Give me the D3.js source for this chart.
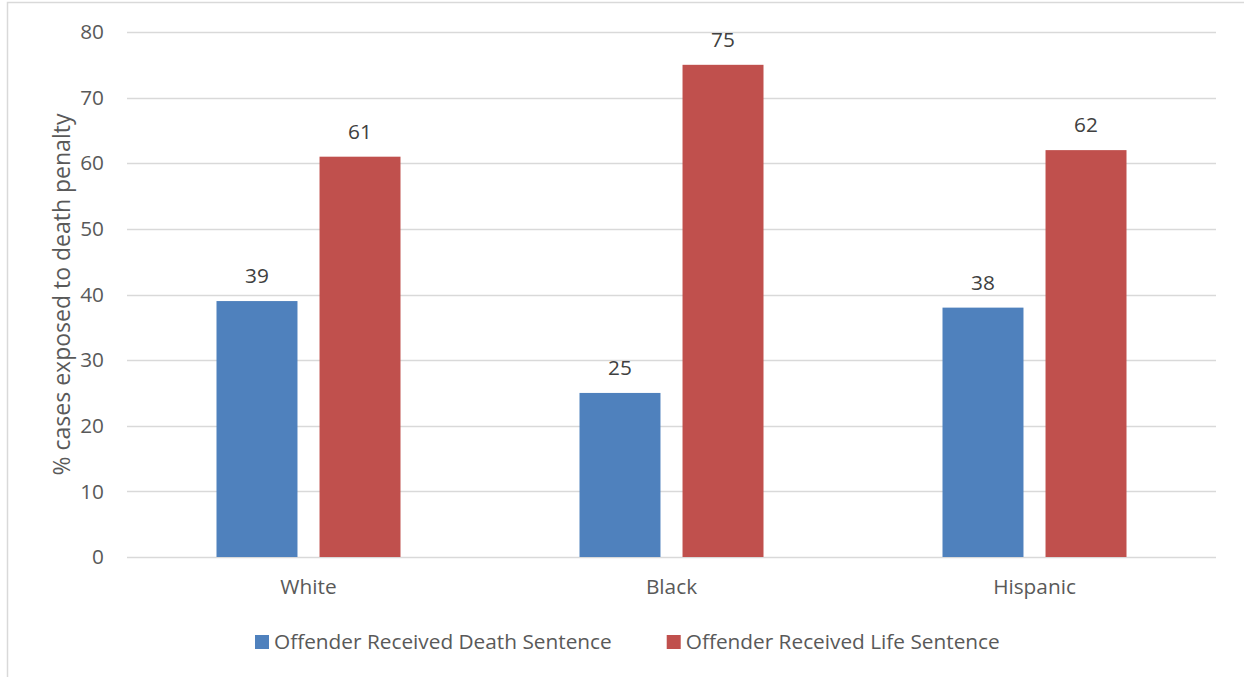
<!DOCTYPE html>
<html>
<head>
<meta charset="utf-8">
<script src="https://cdn.jsdelivr.net/npm/d3@7"></script>
<style>
  html, body { margin: 0; padding: 0; background: #fff; }
  svg { display: block; }
  text { font-family: "Open Sans", Lato, sans-serif; }
</style>
</head>
<body>
<svg id="chart" width="1244" height="677"></svg>
<script>
// Share of cases exposed to the death penalty, by offender race
const categories = ["White", "Black", "Hispanic"];
const seriesNames = ["Offender Received Death Sentence", "Offender Received Life Sentence"];
const deathSentence = [39, 25, 38];
const lifeSentence = [61, 75, 62];
const yTicks = [0, 10, 20, 30, 40, 50, 60, 70, 80];
const yTitle = "% cases exposed to death penalty";
const colors = ["#4F81BD", "#C0504D"];

const svg = d3.select("#chart");
const W = 1244, H = 677;
const plot = { left: 127, right: 1216, top: 32, bottom: 557 };
const FS = 20.8;     // tick, data and legend labels
const TITLE_FS = 23; // axis title

// chart frame
svg.append("path")
  .attr("d", `M7.5,${H} L7.5,2.5 L${W},2.5`)
  .attr("fill", "none").attr("stroke", "#D9D9D9").attr("stroke-width", 1.5);

const x = d3.scaleBand().domain(categories).range([plot.left, plot.right]);
const inner = d3.scaleBand().domain(seriesNames)
  .range([x.bandwidth() / 2 - 92, x.bandwidth() / 2 + 92]).paddingInner(0.214);
const y = d3.scaleLinear().domain([0, 80]).range([plot.bottom, plot.top]);

// gridlines
svg.append("g").selectAll("line").data(yTicks).join("line")
  .attr("x1", plot.left).attr("x2", plot.right)
  .attr("y1", d => Math.round(y(d)) + 0.5).attr("y2", d => Math.round(y(d)) + 0.5)
  .attr("stroke", "#D9D9D9").attr("stroke-width", 1.3);

// y axis tick labels
const yAxis = d3.axisLeft(y).tickValues(yTicks).tickSize(0).tickPadding(0);
const gy = svg.append("g").attr("transform", `translate(${plot.left - 23},0)`).call(yAxis);
gy.select(".domain").remove();
gy.selectAll("text").attr("font-size", FS).attr("fill", "#595959")
  .attr("font-family", "'Open Sans', Lato, sans-serif");

// x axis category labels
const xAxis = d3.axisBottom(x).tickSize(0).tickPadding(0);
const gx = svg.append("g").attr("transform", `translate(0,${plot.bottom + 22})`).call(xAxis);
gx.select(".domain").remove();
gx.selectAll("text").attr("font-size", FS).attr("fill", "#595959")
  .attr("font-family", "'Open Sans', Lato, sans-serif");

// bars
const rows = categories.map((c, i) => ({ cat: c, vals: [deathSentence[i], lifeSentence[i]] }));
const groups = svg.append("g").selectAll("g").data(rows).join("g")
  .attr("transform", d => `translate(${x(d.cat)},0)`);

const bars = groups.selectAll("g.bar").data(d => d.vals.map((v, k) => ({ v, s: seriesNames[k], k })))
  .join("g").attr("class", "bar");

bars.append("rect")
  .attr("x", d => inner(d.s))
  .attr("width", inner.bandwidth())
  .attr("y", d => y(d.v))
  .attr("height", d => y(0) - y(d.v))
  .attr("fill", d => colors[d.k]);

bars.append("text")
  .attr("x", d => inner(d.s) + inner.bandwidth() / 2)
  .attr("y", d => y(d.v) - 18)
  .attr("text-anchor", "middle")
  .attr("font-size", FS).attr("fill", "#404040")
  .text(d => d.v);

// y axis title
svg.append("text")
  .attr("transform", `translate(70,${(plot.top + plot.bottom) / 2}) rotate(-90)`)
  .attr("text-anchor", "middle").attr("font-size", TITLE_FS).attr("fill", "#595959")
  .text(yTitle);

// legend: swatch, label, then the next entry
const lg = svg.append("g").attr("transform", "translate(255,635)");
let lx = 0;
seriesNames.forEach((name, i) => {
  const g = lg.append("g").attr("transform", `translate(${lx},0)`);
  g.append("rect").attr("width", 14).attr("height", 14).attr("fill", colors[i]);
  const t = g.append("text").attr("x", 19).attr("y", 14).attr("font-size", FS).attr("fill", "#595959")
    .text(name);
  lx += 19 + t.node().getComputedTextLength() + 55;
});
</script>
</body>
</html>
